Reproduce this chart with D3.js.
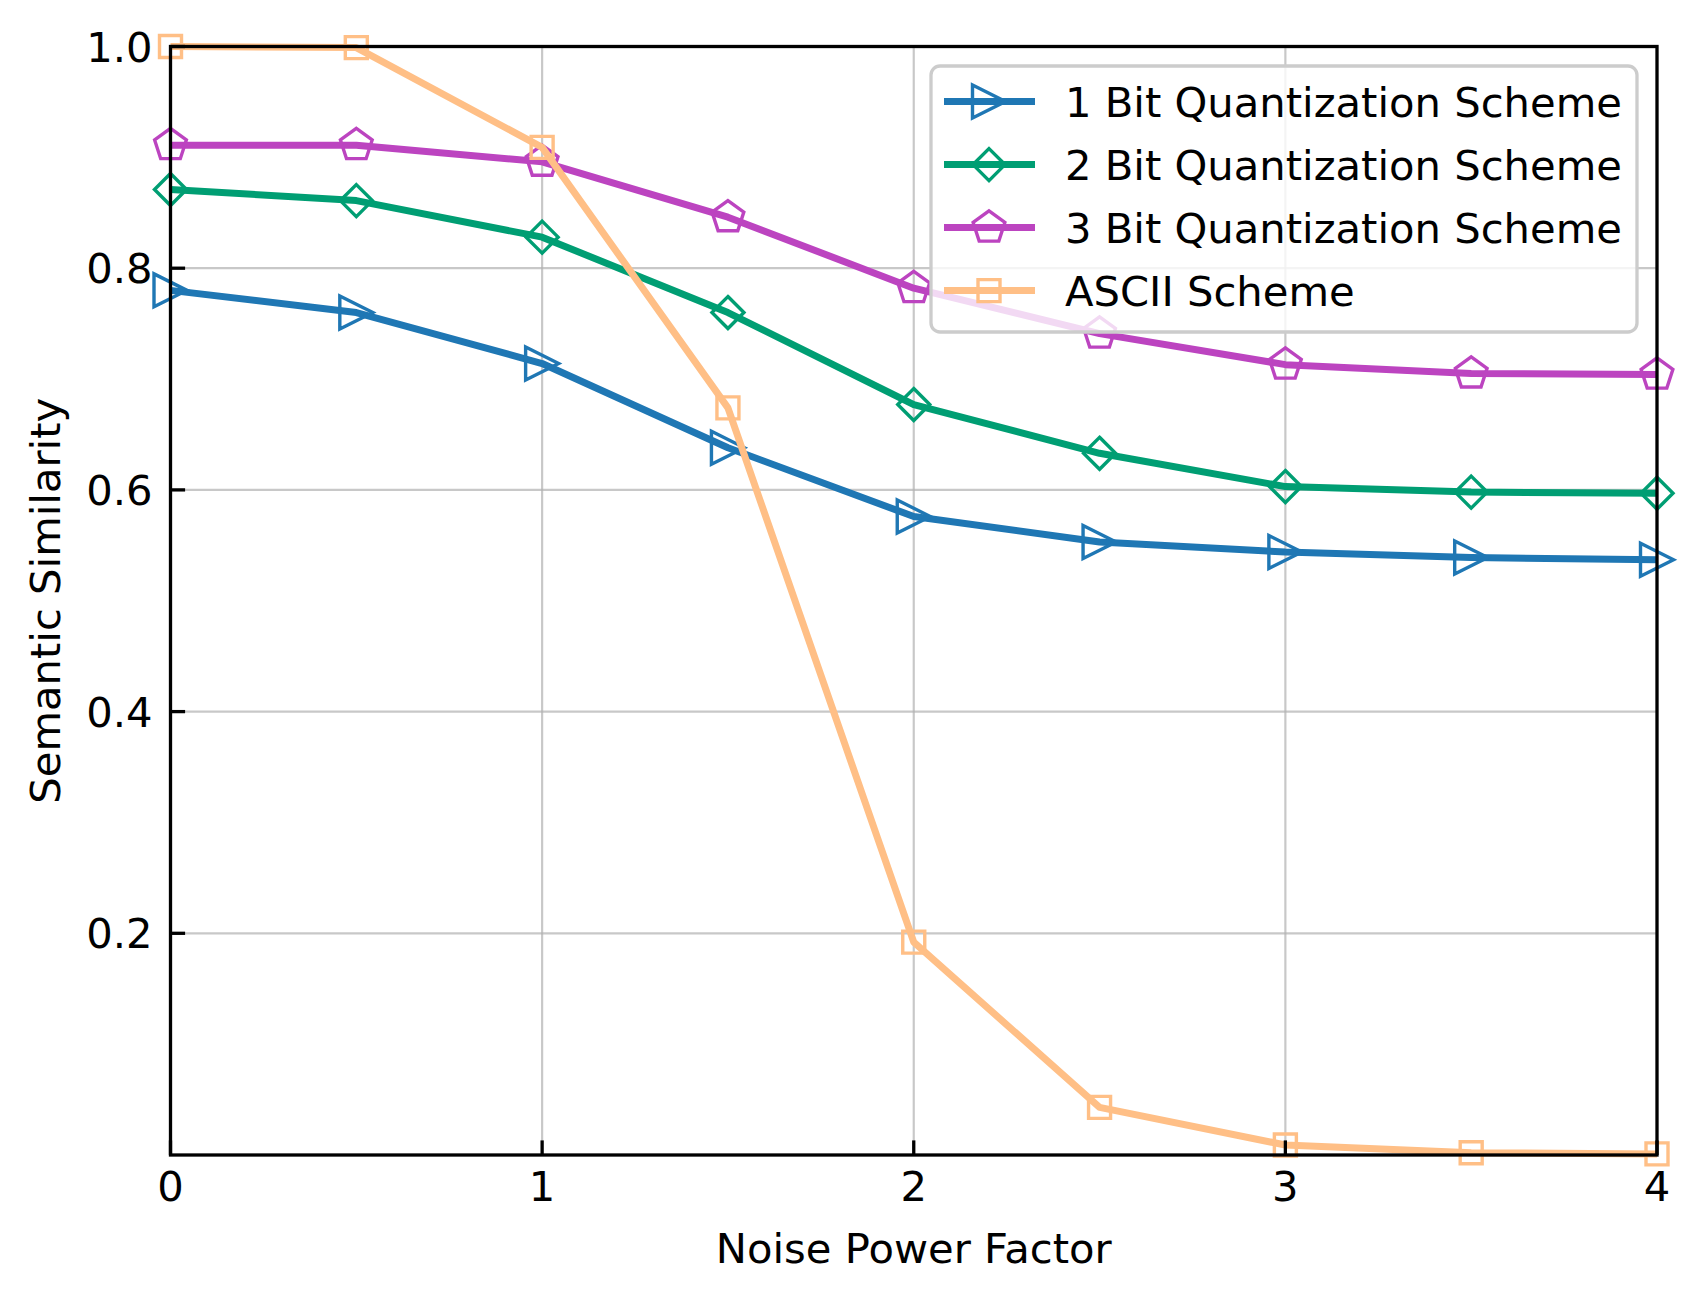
<!DOCTYPE html>
<html>
<head>
<meta charset="utf-8">
<script src="https://cdn.jsdelivr.net/npm/d3@7"></script>
<style>
   body { margin: 0; background: #fff; }
   text { font-family: "DejaVu Sans", sans-serif; }
</style>
</head>
<body>
<div id="chart"></div>
<script>
// data
let noiseFactor = [0, 0.5, 1, 1.5, 2, 2.5, 3, 3.5, 4]
let oneBit = [0.780, 0.760, 0.714, 0.638, 0.576, 0.553, 0.544, 0.539, 0.537]
let twoBit = [0.871, 0.861, 0.828, 0.760, 0.677, 0.633, 0.603, 0.598, 0.597]
let threeBit = [0.911, 0.911, 0.896, 0.846, 0.782, 0.741, 0.713, 0.705, 0.704]
let ascii = [1.000, 0.999, 0.909, 0.674, 0.192, 0.043, 0.009, 0.002, 0.001]
let seriesNames = ["1 Bit Quantization Scheme", "2 Bit Quantization Scheme", "3 Bit Quantization Scheme", "ASCII Scheme"]
let xTicks = [0, 1, 2, 3, 4]
let yTicks = [0.2, 0.4, 0.6, 0.8, 1.0]

let series = [
   { name: seriesNames[0], values: oneBit, color: "#1f77b4", marker: "triangle" },
   { name: seriesNames[1], values: twoBit, color: "#009e73", marker: "diamond" },
   { name: seriesNames[2], values: threeBit, color: "#bc44c0", marker: "pentagon" },
   { name: seriesNames[3], values: ascii, color: "#ffbf86", marker: "square" }
]

let totalWidth = 1704, totalHeight = 1300
let margin = { top: 46.5, right: 47, bottom: 145, left: 170.5 }
let width = totalWidth - margin.left - margin.right
let height = totalHeight - margin.top - margin.bottom
let fontSize = 41.7
let lineWidth = 7

let x = d3.scaleLinear().domain([0, 4]).range([0, width])
let y = d3.scaleLinear().domain([0, 1]).range([height, 0])

let svg = d3.select("#chart").append("svg")
   .attr("width", totalWidth)
   .attr("height", totalHeight)

svg.append("rect")
   .attr("width", totalWidth)
   .attr("height", totalHeight)
   .attr("fill", "#fff")

let g = svg.append("g")
   .attr("transform", "translate(" + margin.left + "," + margin.top + ")")

// grid lines
g.selectAll("line.gridX").data(xTicks)
   .join("line")
   .attr("class", "gridX")
   .attr("x1", d => x(d)).attr("x2", d => x(d))
   .attr("y1", 0).attr("y2", height)
   .attr("stroke", "#b0b0b0").attr("stroke-opacity", 0.7).attr("stroke-width", 2.2)

g.selectAll("line.gridY").data(yTicks)
   .join("line")
   .attr("class", "gridY")
   .attr("x1", 0).attr("x2", width)
   .attr("y1", d => y(d)).attr("y2", d => y(d))
   .attr("stroke", "#b0b0b0").attr("stroke-opacity", 0.7).attr("stroke-width", 2.2)

// marker shapes, centred on 0,0
function markerPath(type) {
   if (type == "triangle") {
      let s = 16.5
      return "M" + s + ",0L" + (-s) + "," + (-s) + "L" + (-s) + "," + s + "Z"
   }
   if (type == "diamond") {
      let s = 16
      return "M0," + (-s) + "L" + s + ",0L0," + s + "L" + (-s) + ",0Z"
   }
   if (type == "square") {
      let s = 11
      return "M" + (-s) + "," + (-s) + "H" + s + "V" + s + "H" + (-s) + "Z"
   }
   // pentagon
   let r = 16.7
   let pts = d3.range(5).map(function (i) {
      let a = -Math.PI / 2 + i * 2 * Math.PI / 5
      return [r * Math.cos(a), r * Math.sin(a)]
   })
   return "M" + pts.map(p => p[0].toFixed(2) + "," + p[1].toFixed(2)).join("L") + "Z"
}

let line = d3.line()
   .x(function (d, i) { return x(noiseFactor[i]) })
   .y(function (d) { return y(d) })

series.forEach(function (s) {
   let sg = g.append("g").attr("class", "series")

   sg.append("path")
      .datum(s.values)
      .attr("d", line)
      .attr("fill", "none")
      .attr("stroke", s.color)
      .attr("stroke-width", lineWidth)
      .attr("stroke-linejoin", "round")

   sg.selectAll("path.marker").data(s.values)
      .join("path")
      .attr("class", "marker")
      .attr("transform", function (d, i) { return "translate(" + x(noiseFactor[i]) + "," + y(d) + ")" })
      .attr("d", markerPath(s.marker))
      .attr("fill", "none")
      .attr("stroke", s.color)
      .attr("stroke-width", 3.4)
})

// axes: inward ticks
let tickLen = 14.6

g.selectAll("line.tickY").data(yTicks)
   .join("line")
   .attr("class", "tickY")
   .attr("x1", 0).attr("x2", tickLen)
   .attr("y1", d => y(d)).attr("y2", d => y(d))
   .attr("stroke", "#000").attr("stroke-width", 3.3)

g.selectAll("text.tickY").data(yTicks)
   .join("text")
   .attr("class", "tickY")
   .attr("x", -18)
   .attr("y", d => y(d))
   .attr("dy", "0.36em")
   .attr("text-anchor", "end")
   .attr("font-size", fontSize)
   .text(d => d3.format(".1f")(d))

g.selectAll("line.tickX").data(xTicks)
   .join("line")
   .attr("class", "tickX")
   .attr("x1", d => x(d)).attr("x2", d => x(d))
   .attr("y1", height).attr("y2", height - tickLen)
   .attr("stroke", "#000").attr("stroke-width", 3.3)

g.selectAll("text.tickX").data(xTicks)
   .join("text")
   .attr("class", "tickX")
   .attr("x", d => x(d))
   .attr("y", height + 46)
   .attr("text-anchor", "middle")
   .attr("font-size", fontSize)
   .text(d => d)

// frame
g.append("rect")
   .attr("width", width)
   .attr("height", height)
   .attr("fill", "none")
   .attr("stroke", "#000")
   .attr("stroke-width", 3.3)

// axis titles
g.append("text")
   .attr("x", width / 2)
   .attr("y", height + 108)
   .attr("text-anchor", "middle")
   .attr("font-size", fontSize)
   .text("Noise Power Factor")

svg.append("text")
   .attr("transform", "translate(60," + (margin.top + height / 2) + ") rotate(-90)")
   .attr("text-anchor", "middle")
   .attr("font-size", fontSize)
   .text("Semantic Similarity")

// legend
let legendG = svg.append("g")
   .attr("class", "chartLegend")
   .attr("transform", "translate(931,66)")

legendG.append("rect")
   .attr("width", 706)
   .attr("height", 266)
   .attr("rx", 9)
   .attr("fill", "#fff")
   .attr("fill-opacity", 0.8)
   .attr("stroke", "#cccccc")
   .attr("stroke-width", 3.3)

let rowStep = 63
let rows = legendG.selectAll("g.row").data(series)
   .join("g")
   .attr("class", "row")
   .attr("transform", function (d, i) { return "translate(0," + (35.6 + i * rowStep) + ")" })

rows.append("line")
   .attr("x1", 13).attr("x2", 104)
   .attr("stroke", d => d.color)
   .attr("stroke-width", lineWidth)

rows.append("path")
   .attr("transform", "translate(58,0)")
   .attr("d", d => markerPath(d.marker))
   .attr("fill", "none")
   .attr("stroke", d => d.color)
   .attr("stroke-width", 3.4)

rows.append("text")
   .attr("x", 134)
   .attr("y", 15.5)
   .attr("font-size", fontSize)
   .text(d => d.name)
</script>
</body>
</html>
